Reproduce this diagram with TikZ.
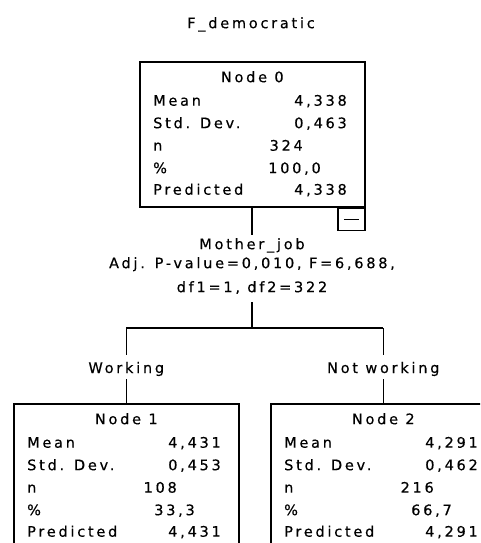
\documentclass[tikz,border=0pt]{standalone}
\usepackage{fontspec}
\setmainfont{DejaVu Sans}[LetterSpace=19, FakeBold=0.4]
\usetikzlibrary{calc}

\tikzset{
  treebox/.style={draw, line width=1.6pt, minimum width=225pt, minimum height=#1,
    anchor=north west, inner sep=0pt},
  txt/.style={inner sep=0pt, font=\fontsize{14.5pt}{17pt}\selectfont},
  rowlbl/.style={txt, anchor=base west},
  rowval/.style={txt, anchor=base east},
  centred/.style={txt, anchor=base},
  link/.style={line width=1.6pt},
}

% one statistics block: #1 node name, #2 header, #3 mean, #4 sd, #5 n, #6 percent, #7 predicted
\newcommand{\statrows}[7]{%
  \node[centred] (#1-head) at ($(#1.north)+(0,21.2)$) {#2};
  \node[rowlbl] (#1-l1) at ($(#1.north west)+(14,44.7)$) {Mean};
  \node[rowlbl] (#1-l2) at ($(#1.north west)+(14,67.2)$) {Std. Dev.};
  \node[rowlbl] (#1-l3) at ($(#1.north west)+(14,89.7)$) {n};
  \node[rowlbl] (#1-l4) at ($(#1.north west)+(14,112.2)$) {\%};
  \node[rowlbl] (#1-l5) at ($(#1.north west)+(14,133.7)$) {Predicted};
  \node[rowval] (#1-v1) at ($(#1.north west)+(208,44.7)$) {#3};
  \node[rowval] (#1-v2) at ($(#1.north west)+(208,67.2)$) {#4};
  \node[rowval] (#1-v3) at ($(#1.north west)+(164,89.7)$) {#5};
  \node[rowval] (#1-v4) at ($(#1.north west)+(182,112.2)$) {#6};
  \node[rowval] (#1-v5) at ($(#1.north west)+(208,133.7)$) {#7};
}

\begin{document}
\begin{tikzpicture}[x=1pt, y=-1pt]
  \useasboundingbox (0,0) rectangle (480,543);
  \clip (0,0) rectangle (480,543);

  % dependent variable
  \node[centred] (title) at (251,28.2) {F\_democratic};

  % root node
  \node[treebox=145pt] (n0) at (139,61) {};
  \statrows{n0}{Node 0}{4,338}{0,463}{324}{100,0}{4,338}
  \node[draw, line width=1.6pt, minimum width=27pt, minimum height=22pt,
        anchor=north east, inner sep=0pt] (collapse) at (n0.south east) {};
  \draw[line width=1.4pt] ($(collapse.center)+(-7.5,0)$) -- ($(collapse.center)+(7.5,0)$);

  % split description
  \node[centred] (sp1) at (252,249.2) {Mother\_job};
  \node[centred] (sp2) at (252,268.2) {Adj. P-value=0,010, F=6,688,};
  \node[centred] (sp3) at (252,292.2) {df1=1, df2=322};

  % child nodes
  \node[treebox=170pt] (n1) at (13,403) {};
  \node[treebox=170pt] (n2) at (270,403) {};
  \statrows{n1}{Node 1}{4,431}{0,453}{108}{33,3}{4,431}
  \statrows{n2}{Node 2}{4,291}{0,462}{216}{66,7}{4,291}

  % branch labels
  \node[centred] (b1) at ($(n1.north)+(0,-30)$) {Working};
  \node[centred] (b2) at ($(n2.north)+(0,-30)$) {Not working};

  % connectors
  \coordinate (fork) at (252,328);
  \draw[link] (n0.south -| fork) -- ++(0,27);
  \draw[link] (fork) -- ++(0,-26);
  \draw[link] (n1.north |- fork) -- (n2.north |- fork);
  \draw[link] (n1.north |- fork) -- ++(0,27);
  \draw[link] (n2.north |- fork) -- ++(0,27);
  \draw[link] (n1.north) -- ++(0,-24);
  \draw[link] (n2.north) -- ++(0,-24);
\end{tikzpicture}
\end{document}
